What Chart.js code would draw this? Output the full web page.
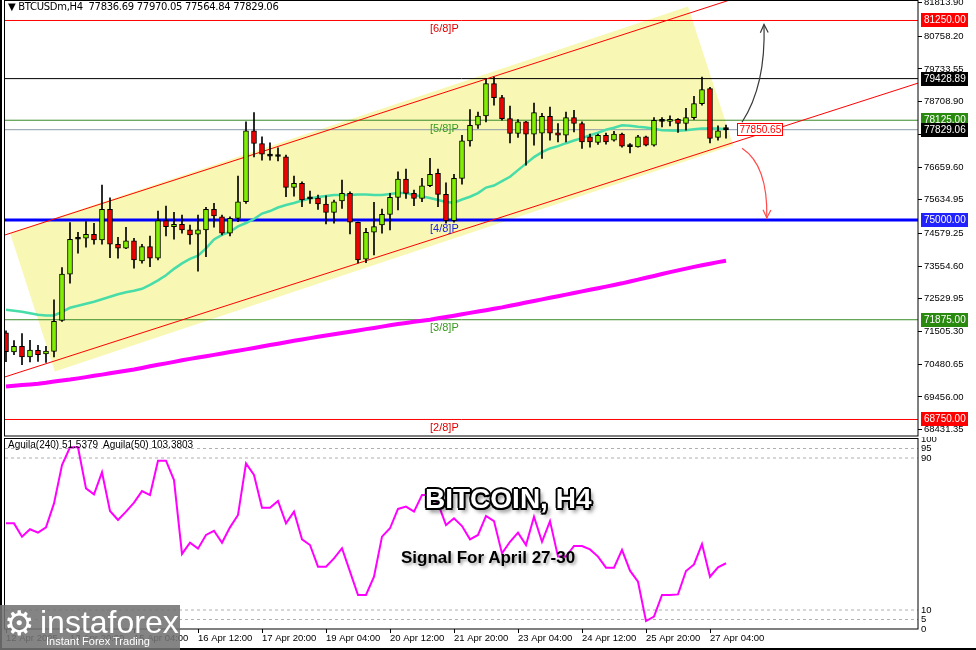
<!DOCTYPE html>
<html>
<head>
<meta charset="utf-8">
<script src="https://cdn.jsdelivr.net/npm/chart.js@4.4.1/dist/chart.umd.min.js"></script>
<style>
  body { margin: 0; background: #fff; }
  #wrap { position: relative; width: 976px; height: 650px; overflow: hidden; background: #fff;
          font-family: "Liberation Sans", Arial, sans-serif; }
  #main { position: absolute; left: 0; top: 0; }
  #sub { position: absolute; left: 0; top: 437px; }
  #leftbar { position: absolute; left: 0; top: 0; width: 2px; height: 650px; background: #000; }
  #botbar { position: absolute; left: 0; top: 648px; width: 976px; height: 2px; background: #000; }
  .txt { position: absolute; white-space: nowrap; color: #000; }
  #hdr { left: 8px; top: 1px; font-size: 10px; font-family: "DejaVu Sans", "Liberation Sans", sans-serif; letter-spacing: -0.3px; }
  #subhdr { left: 8px; top: 439px; font-size: 10px; }
  #big { left: 425px; top: 483px; font-size: 28px; font-weight: bold; color: #fff;
         text-shadow: -2px 0 #000, 2px 0 #000, 0 -2px #000, 0 2px #000, -1.5px -1.5px #000, 1.5px 1.5px #000,
                      -1.5px 1.5px #000, 1.5px -1.5px #000, 3px 4px 4px rgba(0,0,0,.55); }
  #signal { left: 401px; top: 548px; font-size: 17px; font-weight: bold; text-shadow: 2px 2px 3px rgba(0,0,0,.35); }
  #logo { position: absolute; left: 0; top: 605px; width: 180px; height: 45px; background: rgba(115,115,115,.88); }
  #logo .gear { position: absolute; left: 4px; top: -2px; font-size: 34px; color: #fff; font-family: "DejaVu Sans", sans-serif; }
  #logo .name { position: absolute; left: 40px; top: -1px; font-size: 32px; color: #fff; }
  #logo .slogan { position: absolute; left: 46px; top: 30px; font-size: 11px; color: #fff; }
</style>
</head>
<body>
<div id="wrap">
  <canvas id="main" width="976" height="437"></canvas>
  <canvas id="sub" width="976" height="213"></canvas>
  <div id="leftbar"></div>
  <div id="botbar"></div>
  <div class="txt" id="hdr">▼ BTCUSDm,H4&nbsp; 77836.69 77970.05 77564.84 77829.06</div>
  <div class="txt" id="subhdr">Aguila(240) 51.5379&nbsp; Aguila(50) 103.3803</div>
  <div class="txt" id="big">BITCOIN, H4</div>
  <div class="txt" id="signal">Signal For April 27-30</div>
  <div id="logo"><span class="gear">⚙</span><span class="name">instaforex</span><span class="slogan">Instant Forex Trading</span></div>
</div>
<script>
// H4 candles, 12 Apr 12:00 .. 27 Apr 12:00
const opens = [71469,70866,71041,70709,70916,70803,70884,71853,73303,74397,
  74428,74553,74375,75334,74241,74116,74344,73719,74166,73803,
  74978,74791,74866,74688,74553,74688,75334,75103,74584,75053,
  75572,77791,77397,77041,77022,76978,76022,76147,75688,75688,
  75500,75241,75594,75834,74928,73772,74616,74844,75178,75709,
  76281,75834,75678,76072,76459,75803,74978,76303,77478,77969,
  78259,79272,78834,78178,77709,78072,77688,77719,78250,77728,
  77656,78209,78022,77603,77428,77656,77500,77688,77303,77291,
  77603,77344,78103,78090,78150,78022,78209,78647,79116,77584,77837];
const highs = [71531,71219,71438,71228,71072,71041,72500,73509,74916,74616,
  74947,74897,76094,75697,74459,74772,74428,74241,74500,75281,
  75438,75241,75156,74844,75156,75397,75522,75156,75103,76375,
  78072,78366,77603,77416,77259,77031,76375,76197,75906,75781,
  75759,75625,76250,75884,74938,74741,75553,75344,75834,76509,
  76594,75938,76303,76928,76594,76166,76428,77656,78459,78384,
  79428,79478,78906,78572,78147,78094,78666,78344,78541,78022,
  78384,78438,78072,77688,77688,77719,77781,77719,77397,77656,
  77625,78209,78209,78260,78178,78500,78875,79480,79156,77947,77970];
const lows = [70563,70781,70469,70553,70572,70541,70709,71822,73022,73959,
  74147,74241,74241,73822,73803,74103,73491,73647,73541,73750,
  74500,74397,74584,74241,73400,73853,74772,74531,74500,74947,
  75522,76978,76875,76875,76853,75728,75750,75416,75522,75334,
  74875,74897,75366,74563,73656,73666,73906,74584,74688,75313,
  75678,75447,75572,76041,75416,74897,74928,76125,77313,77866,
  78072,78594,78125,77416,77584,76719,77344,76928,77500,77447,
  77447,77759,77241,77281,77366,77375,77469,77281,77103,77281,
  77322,77313,77916,77950,77741,77813,78150,78594,77416,77500,77565];
const closes = [70875,71041,70709,70928,70781,70897,71822,73303,74397,74416,
  74553,74375,75334,74241,74116,74344,73750,74166,73803,74978,
  74791,74866,74688,74531,74688,75334,75125,74584,75053,75572,
  77791,77397,77063,77000,76990,76022,76147,75625,75660,75500,
  75241,75572,75834,74928,73750,74616,74791,75178,75709,76281,
  75834,75678,76072,76428,75803,74978,76303,77478,77969,78259,
  79272,78834,78178,77709,78072,77688,78366,78250,77719,77656,
  78209,78022,77447,77447,77656,77447,77688,77313,77300,77603,
  77344,78125,78090,78150,78022,78209,78647,79084,77553,77791,77829];

// moving averages
const maFast = [72188,72156,72125,72078,72031,72009,72009,72125,72250,72313,
  72375,72438,72516,72594,72672,72734,72781,72844,72969,73109,
  73266,73469,73641,73781,73884,74109,74391,74531,74634,74797,
  74906,75031,75203,75281,75391,75469,75531,75609,75672,75719,
  75750,75781,75781,75781,75797,75797,75781,75781,75813,75844,
  75844,75781,75734,75688,75625,75563,75541,75641,75728,75844,
  76016,76078,76219,76353,76563,76766,76969,77125,77241,77313,
  77406,77491,77563,77656,77734,77828,77891,77969,77953,77922,
  77897,77859,77813,77803,77797,77813,77844,77866,77866,77866,77844];
const maSlow = [69781,69806,69828,69850,69872,69900,69938,69969,70000,70038,
  70078,70119,70156,70197,70238,70278,70319,70366,70416,70463,
  70509,70556,70606,70650,70691,70734,70775,70819,70863,70906,
  70947,70991,71038,71081,71125,71172,71219,71259,71300,71341,
  71381,71419,71459,71500,71541,71581,71619,71659,71700,71741,
  71775,71809,71841,71875,71919,71959,72003,72047,72091,72131,
  72175,72219,72263,72313,72363,72413,72463,72513,72563,72613,
  72663,72713,72763,72813,72863,72913,72963,73016,73075,73131,
  73191,73247,73306,73366,73422,73478,73531,73581,73631,73681,73725];

// Aguila oscillator (lower panel)
const aguila = [55.6,55.6,48.6,52.5,50.7,53.5,66.1,86.3,95.6,95.6,
  74.0,70.9,82.5,62.1,57.4,61.8,66.5,72.6,70.5,88.6,
  88.6,78.4,39.5,45.4,42.3,49.5,51.7,45.4,53.5,60.0,
  87.2,81.1,63.8,63.8,67.4,55.6,61.8,47.2,44.2,32.8,
  32.8,37.2,42.5,30.2,17.9,17.9,27.5,48.6,53.0,63.2,
  64.4,61.8,70.5,70.5,66.1,54.7,58.3,54.2,47.2,49.5,
  59.5,56.8,39.8,45.9,50.7,44.2,59.1,45.9,56.8,38.1,
  38.1,43.7,43.7,41.9,38.1,32.3,32.3,41.6,30.7,24.9,
  4.2,6.5,17.9,17.9,18.2,30.5,34.0,44.7,27.5,32.5,34.6];
const aguilaLevels = [95, 90, 10, 5];
const aguilaTicks = [0, 5, 10, 90, 95, 100];

// axes
const priceTicks = [81813.90, 80758.20, 79733.55, 78708.90, 77684.25, 76659.60, 75634.95,
  74579.25, 73554.60, 72529.95, 71505.30, 70480.65, 69456.00, 68431.35];
const timeTickIdx = [0, 8, 16, 24, 32, 40, 48, 56, 64, 72, 80, 88];
const timeTickLabels = ['12 Apr 2025', '13 Apr 20:00', '15 Apr 04:00', '16 Apr 12:00', '17 Apr 20:00',
  '19 Apr 04:00', '20 Apr 12:00', '21 Apr 20:00', '23 Apr 04:00', '24 Apr 12:00', '25 Apr 20:00', '27 Apr 04:00'];
const xMin = -0.125, xMax = 114;

// horizontal levels
const levelPrices = [81250, 79428.89, 78125, 77829.06, 75000, 71875, 68750];
const levelColors = ['#ff0000', '#000000', '#3a8a28', '#8c9aa8', '#0000ff', '#3a8a28', '#ff0000'];
const levelWidths = [1, 1, 1, 1, 3, 1, 1];
const levelBoxColors = ['#ff0000', '#000000', '#2a8a10', '#000000', '#2222ff', '#2a8a10', '#ff0000'];
const murrayLabels = ['[6/8]P', '[5/8]P', '[4/8]P', '[3/8]P', '[2/8]P'];
const murrayPrices = [81250, 78125, 75000, 71875, 68750];
const murrayColors = ['#e00000', '#3a9a20', '#2020e0', '#3a9a20', '#e00000'];

// trend channel (index, price)
const channelUpper = [[-0.125, 74531], [114, 83803]];
const channelLower = [[-0.125, 70084], [114, 79288]];
const channelBox = [[0.5, 74594], [85.25, 81688], [90.9, 77344], [6.1, 70250], [0.5, 74594]];

// scenario arrows: start, bend, end (index, price)
const arrowUp = [[92, 78063], [95, 79219], [94.75, 81125]];
const arrowDown = [[92, 77250], [95.25, 76719], [95.1, 75063]];
const priceTag = { idx: 91.4, price: 77850.65 };

const idx = closes.map((_, i) => i);
const bodyColors = idx.map(i => {
  const d = closes[i] - opens[i];
  return d > 45 ? '#7ef000' : d < -45 ? '#f00000' : '#000000';
});

Chart.defaults.font.family = '"Liberation Sans", Arial, sans-serif';
Chart.defaults.color = '#000';

const noPad = s => { s.paddingTop = 0; s.paddingBottom = 0; s.paddingLeft = 0; s.paddingRight = 0; };

const mainOverlay = {
  id: 'mainOverlay',
  afterDraw(chart) {
    const { ctx, chartArea: ca, scales: { x, y } } = chart;
    ctx.save();
    ctx.strokeStyle = '#000';
    ctx.lineWidth = 1;
    ctx.strokeRect(ca.left - 0.5, ca.top + 0.5, ca.right - ca.left + 0.5, ca.bottom - ca.top - 0.5);

    // murray labels
    ctx.font = '11px "Liberation Sans"';
    ctx.textAlign = 'left';
    ctx.textBaseline = 'top';
    murrayPrices.forEach((v, k) => {
      ctx.fillStyle = murrayColors[k];
      ctx.fillText(murrayLabels[k], x.getPixelForValue(53), y.getPixelForValue(v) + 3);
    });

    // arrows
    const drawArrow = (pts, color) => {
      const p = pts.map(q => ({ x: x.getPixelForValue(q[0]), y: y.getPixelForValue(q[1]) }));
      ctx.strokeStyle = color;
      ctx.lineWidth = 1.2;
      ctx.beginPath();
      ctx.moveTo(p[0].x, p[0].y);
      ctx.quadraticCurveTo(p[1].x, p[1].y, p[2].x, p[2].y);
      ctx.stroke();
      const a = Math.atan2(p[2].y - p[1].y, p[2].x - p[1].x);
      ctx.beginPath();
      ctx.moveTo(p[2].x - 9 * Math.cos(a - 0.45), p[2].y - 9 * Math.sin(a - 0.45));
      ctx.lineTo(p[2].x, p[2].y);
      ctx.lineTo(p[2].x - 9 * Math.cos(a + 0.45), p[2].y - 9 * Math.sin(a + 0.45));
      ctx.stroke();
    };
    drawArrow(arrowUp, '#3a3a3a');
    drawArrow(arrowDown, '#ff4a4a');

    // price tag
    const tx = Math.round(x.getPixelForValue(priceTag.idx)) + 0.5;
    const ty = Math.round(y.getPixelForValue(priceTag.price));
    ctx.fillStyle = '#fff';
    ctx.fillRect(tx, ty - 6, 45, 12);
    ctx.strokeStyle = '#ff0000';
    ctx.lineWidth = 1;
    ctx.strokeRect(tx, ty - 5.5, 45, 12);
    ctx.fillStyle = '#ff0000';
    ctx.font = '10px "Liberation Sans"';
    ctx.textBaseline = 'middle';
    ctx.fillText(priceTag.price.toFixed(2), tx + 2, ty + 1);

    // right-axis level boxes
    levelPrices.forEach((v, k) => {
      const py = Math.round(y.getPixelForValue(v));
      ctx.fillStyle = levelBoxColors[k];
      ctx.fillRect(ca.right + 3, py - 7, 47, 14);
      ctx.fillStyle = '#fff';
      ctx.fillText(v.toFixed(2), ca.right + 6, py);
    });
    ctx.restore();
  }
};

const subOverlay = {
  id: 'subOverlay',
  afterDraw(chart) {
    const { ctx, chartArea: ca } = chart;
    ctx.save();
    ctx.strokeStyle = '#000';
    ctx.lineWidth = 1;
    ctx.strokeRect(ca.left - 0.5, ca.top - 0.5, ca.right - ca.left + 0.5, ca.bottom - ca.top + 0.5);
    ctx.restore();
  }
};

const flatLine = (v, color, width) => ({
  type: 'line',
  data: [{ x: xMin, y: v }, { x: xMax, y: v }],
  borderColor: color,
  borderWidth: width,
  pointRadius: 0,
  clip: 0,
  order: 8
});

const mainDatasets = [
  {
    type: 'bar',
    data: idx.map(i => ({ x: i, y: [lows[i], highs[i]] })),
    backgroundColor: '#000',
    barThickness: 1,
    grouped: false,
    order: 2
  },
  {
    type: 'bar',
    data: idx.map(i => ({ x: i, y: [Math.min(opens[i], closes[i]), Math.max(opens[i], closes[i])] })),
    backgroundColor: bodyColors,
    borderColor: '#000',
    borderWidth: 1,
    borderSkipped: false,
    barThickness: 5,
    minBarLength: 2,
    grouped: false,
    order: 1
  },
  {
    type: 'line',
    data: idx.map(i => ({ x: i, y: maFast[i] })),
    borderColor: '#48dca8',
    borderWidth: 2.5,
    pointRadius: 0,
    order: 3
  },
  {
    type: 'line',
    data: idx.map(i => ({ x: i, y: maSlow[i] })),
    borderColor: '#ff00ff',
    borderWidth: 4,
    pointRadius: 0,
    order: 3
  },
  ...levelPrices.map((v, k) => flatLine(v, levelColors[k], levelWidths[k])),
  {
    type: 'line',
    data: channelUpper.map(p => ({ x: p[0], y: p[1] })),
    borderColor: '#ff0000', borderWidth: 1, pointRadius: 0, clip: 0, order: 6
  },
  {
    type: 'line',
    data: channelLower.map(p => ({ x: p[0], y: p[1] })),
    borderColor: '#ff0000', borderWidth: 1, pointRadius: 0, clip: 0, order: 6
  },
  {
    type: 'line',
    data: channelBox.map(p => ({ x: p[0], y: p[1] })),
    borderWidth: 0,
    backgroundColor: '#f8f8b4',
    fill: 'shape',
    pointRadius: 0,
    clip: 0,
    order: 10
  }
];

new Chart(document.getElementById('main'), {
  type: 'bar',
  data: { datasets: mainDatasets },
  options: {
    responsive: false,
    animation: false,
    devicePixelRatio: 1,
    layout: { padding: { left: 5, right: 0, top: 0, bottom: 1 }, autoPadding: false },
    plugins: { legend: { display: false }, tooltip: { enabled: false } },
    scales: {
      x: {
        type: 'linear', min: xMin, max: xMax, display: false,
        offset: false, grid: { offset: false }
      },
      y: {
        position: 'right', min: 68233, max: 81892,
        afterBuildTicks: s => { s.ticks = priceTicks.map(v => ({ value: v })); },
        afterFit: s => { s.width = 58; noPad(s); },
        grid: { drawOnChartArea: false, drawTicks: true, tickLength: 4, color: '#000' },
        border: { display: false },
        ticks: {
          autoSkip: false, padding: 2, color: '#000',
          font: { size: 9.5 },
          callback: v => v.toFixed(2)
        }
      }
    }
  },
  plugins: [mainOverlay]
});

new Chart(document.getElementById('sub'), {
  type: 'line',
  data: {
    datasets: [
      {
        data: idx.map(i => ({ x: i, y: aguila[i] })),
        borderColor: '#ff00ff',
        borderWidth: 2,
        pointRadius: 0,
        order: 1
      },
      ...aguilaLevels.map(v => ({
        data: [{ x: xMin, y: v }, { x: xMax, y: v }],
        borderColor: '#b0b0b0',
        borderWidth: 1,
        borderDash: [3, 3],
        pointRadius: 0,
        order: 5
      }))
    ]
  },
  options: {
    responsive: false,
    animation: false,
    devicePixelRatio: 1,
    layout: { padding: { left: 5, right: 0, top: 2, bottom: 0 }, autoPadding: false },
    plugins: { legend: { display: false }, tooltip: { enabled: false } },
    scales: {
      x: {
        type: 'linear', min: xMin, max: xMax,
        afterBuildTicks: s => { s.ticks = timeTickIdx.map(v => ({ value: v })); },
        afterFit: s => { s.height = 21; noPad(s); },
        grid: { drawOnChartArea: false, drawTicks: true, tickLength: 4, color: '#000' },
        border: { display: false },
        ticks: {
          autoSkip: false, maxRotation: 0, align: 'start', padding: 0, color: '#000',
          font: { size: 9.5 },
          callback: v => timeTickLabels[timeTickIdx.indexOf(v)]
        }
      },
      y: {
        position: 'right', min: 0, max: 100,
        afterBuildTicks: s => { s.ticks = aguilaTicks.map(v => ({ value: v })); },
        afterFit: s => { s.width = 58; noPad(s); },
        grid: { drawOnChartArea: false, drawTicks: false },
        border: { display: false },
        ticks: { autoSkip: false, padding: 3, color: '#000', font: { size: 9.5 } }
      }
    }
  },
  plugins: [subOverlay]
});
</script>
</body>
</html>
